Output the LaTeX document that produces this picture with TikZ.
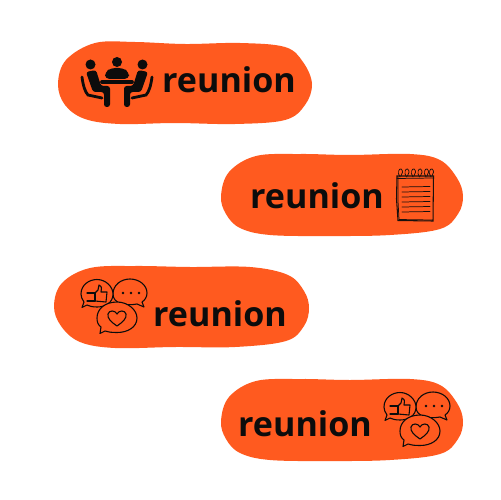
\documentclass[tikz,border=0pt]{standalone}
\usepackage{fontspec}
\setmainfont{Open Sans}
\definecolor{blobcolor}{HTML}{FF5A1F}
\definecolor{inkcolor}{HTML}{0C0C0C}
\tikzset{
	blob/.style={fill=blobcolor,draw=none},
	word/.style={inner sep=0pt,text=inkcolor,font=\fontsize{19.4pt}{22pt}\selectfont\bfseries},
	thin ink/.style={draw=inkcolor,line width=0.62pt,line join=round,line cap=round},
	sketch/.style={draw=inkcolor!95!blobcolor,line width=0.42pt,line cap=round},
	meeting/.pic={
			\fill[inkcolor] (-26.5,-15.5) circle (5);
			\fill[inkcolor] (0,-18) circle (5);
			\fill[inkcolor] (25.5,-15.5) circle (5);
			\fill[inkcolor,rounded corners=2.5pt] (-12,-1) -- (-12,-8) -- (-6,-12) -- (6,-12) -- (12,-8) -- (12,-1) -- cycle;
			\draw[inkcolor,line width=2.2pt,line cap=round] (-15,2) -- (15,2);
			% seated people, mirrored
			\foreach \flip in {1,-1}{
					\begin{scope}[xscale=\flip]
						\fill[inkcolor,rounded corners=1.5pt] (-31,-8) -- (-21,-10) -- (-16,6) -- (-7,6) -- (-7,27) -- (-13,27) -- (-13,12) -- (-24,12) -- cycle;
						\draw[inkcolor,line width=1.6pt,line cap=round] (-35,-3) .. controls (-34,5) and (-32,12) .. (-29,15) -- (-15,18);
					\end{scope}
				}
		},
	notepad/.pic={
			\draw[sketch,line width=0.6pt] (-18,-18) -- (-18.5,5) -- (-17,26.5) -- (18,27) -- (18.5,-18) -- cycle;
			\draw[sketch] (-17,-17) -- (-17,7) -- (-16,25.5) -- (17,26);
			\draw[sketch] (-18,-15.5) -- (18,-16);
			\foreach \ringx in {-15,-8.5,-2,4.5,11,16}{
					\draw[sketch] (\ringx,-17) .. controls (\ringx-3,-21) and (\ringx-1,-26) .. (\ringx+1,-25) .. controls (\ringx+3,-24) and (\ringx+3,-20) .. (\ringx+1,-18);
				}
			\foreach \rowy in {-7,-2,3,8,13,18}{
					\draw[sketch] (-13,\rowy) -- (15,\rowy-0.5);
				}
		},
	chatter/.pic={
			% right bubble
			\draw[thin ink,fill=blobcolor] (17,-11) .. controls (17,-20) and (25,-26) .. (34,-26) .. controls (43,-26) and (51,-20) .. (51,-12) .. controls (51,-8) and (49,-5) .. (46,-3) -- (48,2) -- (41,-1) .. controls (30,1) and (17,-1) .. cycle;
			\foreach \dotx in {27,35,43}{
					\fill[inkcolor] (\dotx,-12) circle (1.3);
				}
			% left bubble
			\draw[thin ink,fill=blobcolor] (-15,-11) .. controls (-15,-20) and (-7,-25.5) .. (1,-25.5) .. controls (10,-25.5) and (17,-18) .. (17,-11) .. controls (17,-2) and (9,2) .. (1,2) .. controls (-4,2) and (-7,1) .. (-9,0) -- (-14,2.5) -- (-12,-3) .. controls (-14,-6) and (-15,-8) .. cycle;
			\draw[thin ink] (-9,-12) -- (-1,-12) -- (-1,-4) -- (-9,-4);
			\draw[thin ink] (-1,-12) -- (2,-15) -- (3,-20) .. controls (5,-20) and (6,-18) .. (5,-13) -- (11,-13) -- (10,-3) -- (-1,-4);
			% bottom bubble
			\draw[thin ink,fill=blobcolor] (1,13) .. controls (1,4) and (9,-3) .. (21,-3) .. controls (32,-3) and (41,5) .. (41,13) .. controls (41,22) and (32,27.5) .. (21,27.5) .. controls (15,27.5) and (12,27) .. (9,26) -- (4,28.5) -- (5,22) .. controls (2,20) and (1,17) .. cycle;
			\draw[thin ink] (21,21) .. controls (15,17) and (11,13) .. (12,9) .. controls (13,5) and (19,5) .. (21,9) .. controls (23,5) and (29,5) .. (30,9) .. controls (31,13) and (27,17) .. cycle;
		}
}
\begin{document}
\begin{tikzpicture}[x=0.02cm,y=-0.02cm]
	\useasboundingbox (0,0) rectangle (500,500);

	\fill[blob] plot[smooth cycle,tension=0.6] coordinates {(58,84) (66,60) (95,43) (135,42) (185,44) (240,43) (285,47) (303,62) (312,84) (305,105) (285,120) (235,124) (175,123) (120,124) (85,119) (65,105)};
	\fill[blob] plot[smooth cycle,tension=0.6] coordinates {(221,196) (229,172) (256,156) (300,154) (350,155) (410,154) (440,160) (457,178) (463,196) (458,214) (440,229) (390,235) (330,236) (270,235) (240,228) (226,214)};
	\fill[blob] plot[smooth cycle,tension=0.6] coordinates {(54,306) (62,283) (90,268) (135,266) (190,267) (250,267) (288,275) (304,291) (309,308) (304,326) (286,341) (235,347) (175,347) (115,348) (80,342) (61,326)};
	\fill[blob] plot[smooth cycle,tension=0.6] coordinates {(221,421) (229,397) (256,381) (300,379) (350,380) (410,379) (440,385) (457,403) (463,421) (458,439) (440,454) (390,460) (330,461) (270,460) (240,453) (226,439)};

	\node[word] (wordone) at (229,80) {reunion};
	\node[word] (wordtwo) at (317,196) {reunion};
	\node[word] (wordthree) at (220,314) {reunion};
	\node[word] (wordfour) at (305,424) {reunion};

	\pic at (117,80) {meeting};
	\pic at (415,194) {notepad};
	\pic at (96,305) {chatter};
	\pic at (399,418) {chatter};
\end{tikzpicture}
\end{document}
